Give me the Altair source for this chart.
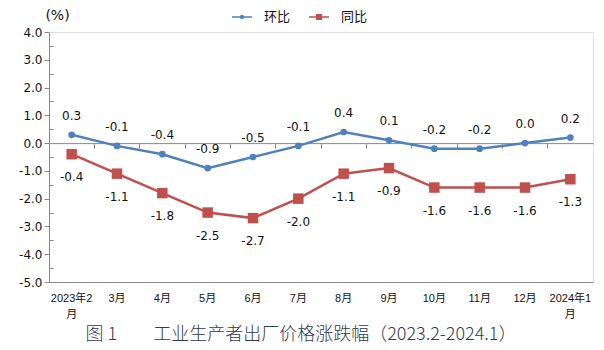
import altair as alt
import pandas as pd

months = ["2023年2月", "3月", "4月", "5月", "6月", "7月", "8月", "9月",
          "10月", "11月", "12月", "2024年1月"]
mom = [0.3, -0.1, -0.4, -0.9, -0.5, -0.1, 0.4, 0.1, -0.2, -0.2, 0.0, 0.2]
yoy = [-0.4, -1.1, -1.8, -2.5, -2.7, -2.0, -1.1, -0.9, -1.6, -1.6, -1.6, -1.3]
series_names = ["环比", "同比"]
colors = ["#4F81BD", "#C0504D"]
y_ticks = [4, 3, 2, 1, 0, -1, -2, -3, -4, -5]
y_minor = [3.5, 2.5, 1.5, 0.5, -0.5, -1.5, -2.5, -3.5, -4.5]
title_text = "图 1\u3000\u3000工业生产者出厂价格涨跌幅（2023.2-2024.1）"

rows = []
for m, a, b in zip(months, mom, yoy):
    rows.append({"month": m, "series": "环比", "value": a, "label": f"{a:.1f}"})
    rows.append({"month": m, "series": "同比", "value": b, "label": f"{b:.1f}"})
df = pd.DataFrame(rows)

W, H = 544, 250
ymin, ymax = -5, 4
zero_offset = -(H * (0 - ymin) / (ymax - ymin))

x_scale = alt.Scale(type="band", domain=months, paddingInner=0, paddingOuter=0)
y_scale = alt.Scale(domain=[ymin, ymax], nice=False, zero=False)
color_scale = alt.Scale(domain=series_names, range=colors)

circle_path = ("M -1.5 -0.13 H 1.5 V 0.13 H -1.5 Z "
               "M 0 -0.34 A 0.34 0.34 0 1 1 0 0.34 A 0.34 0.34 0 1 1 0 -0.34 Z")
square_path = ("M -1.5 -0.13 H 1.5 V 0.13 H -1.5 Z "
               "M -0.46 -0.46 H 0.46 V 0.46 H -0.46 Z")
shape_scale = alt.Scale(domain=series_names, range=[circle_path, square_path])

LBL_FONT = "DejaVu Sans, Noto Sans CJK SC"
XL_FONT = "Liberation Sans, Noto Sans CJK SC"

main_x_axis = alt.Axis(
    orient="bottom", ticks=False, domain=True, domainColor="#888888",
    labelPadding=10, labelAngle=0, labelFont=XL_FONT, labelFontSize=11,
    labelColor="#111111", labelLineHeight=16, title=None, grid=False,
    labelExpr="length(datum.label) > 4 ? [substring(datum.label, 0, length(datum.label) - 1), '月'] : datum.label",
)
main_y_axis = alt.Axis(
    values=y_ticks, tickSize=5, tickColor="#888888",
    labelExpr="replace(format(datum.value, '.1f'), '\u2212', '-')",
    domainColor="#888888", labelFont=LBL_FONT, labelFontSize=12,
    labelColor="#111111", labelPadding=2, grid=False,
    title="(%)", titleAngle=0, titleX=8, titleY=-17, titleAlign="center",
    titleBaseline="middle", titleFont=LBL_FONT, titleFontSize=14,
    titleFontWeight="normal", titleColor="#111111",
)
zero_x_axis = alt.Axis(
    orient="bottom", offset=zero_offset, labels=False, domain=True,
    domainColor="#888888", ticks=True, tickSize=5, tickColor="#888888",
    bandPosition=0, title=None, grid=False,
)
minor_y_axis = alt.Axis(
    orient="right", offset=-W, values=y_minor, labels=False, domain=False,
    ticks=True, tickSize=4, tickColor="#888888", title=None, grid=False,
)

legend = alt.Legend(
    title=None, orient="none", legendX=186, legendY=-22, direction="horizontal",
    symbolSize=180, symbolOpacity=1, symbolStrokeWidth=0,
    labelFont="Noto Sans CJK SC", labelFontSize=13,
    labelColor="#111111", labelOffset=15, columnPadding=17,
)

X = lambda axis: alt.X("month:N", scale=x_scale, sort=months, bandPosition=0.5, axis=axis)
Y = lambda axis: alt.Y("value:Q", scale=y_scale, axis=axis)

base = alt.Chart(df)

lines = base.mark_line(strokeWidth=2.5).encode(
    x=X(main_x_axis), y=Y(main_y_axis),
    color=alt.Color("series:N", scale=color_scale, legend=legend),
)

legend_layer = base.mark_point(filled=True, opacity=0).encode(
    x=X(None), y=Y(None),
    color=alt.Color("series:N", scale=color_scale, legend=legend),
    shape=alt.Shape("series:N", scale=shape_scale, legend=legend),
)

blue = base.transform_filter(alt.datum.series == "环比")
red = base.transform_filter(alt.datum.series == "同比")

blue_pts = blue.mark_point(shape="circle", filled=True, size=45, opacity=1,
                           color=colors[0]).encode(x=X(None), y=Y(None))
red_pts = red.mark_point(shape="square", filled=True, size=110, opacity=1,
                         color=colors[1]).encode(x=X(zero_x_axis), y=Y(minor_y_axis))

blue_lbl = blue.mark_text(dy=-19, font=LBL_FONT, fontSize=12, color="#111111").encode(
    x=X(None), y=Y(None), text="label:N")
red_lbl = red.mark_text(dy=23, font=LBL_FONT, fontSize=12, color="#111111").encode(
    x=X(None), y=Y(None), text="label:N")

chart = alt.layer(lines, legend_layer, blue_pts, red_pts, blue_lbl, red_lbl).resolve_axis(
    x="independent", y="independent"
).properties(
    width=W, height=H, autosize="none",
    padding={"left": 49, "top": 32, "right": 11, "bottom": 68},
    title=alt.TitleParams(title_text, orient="bottom", anchor="middle", dx=-20,
                          offset=7, font="Noto Sans CJK SC", fontSize=18,
                          fontWeight=300, color="#2F3B4C"),
).configure_view(stroke="#888888", strokeWidth=1).configure(background="white")

chart.save("out.html", embed_options={"renderer": "svg", "actions": False})
